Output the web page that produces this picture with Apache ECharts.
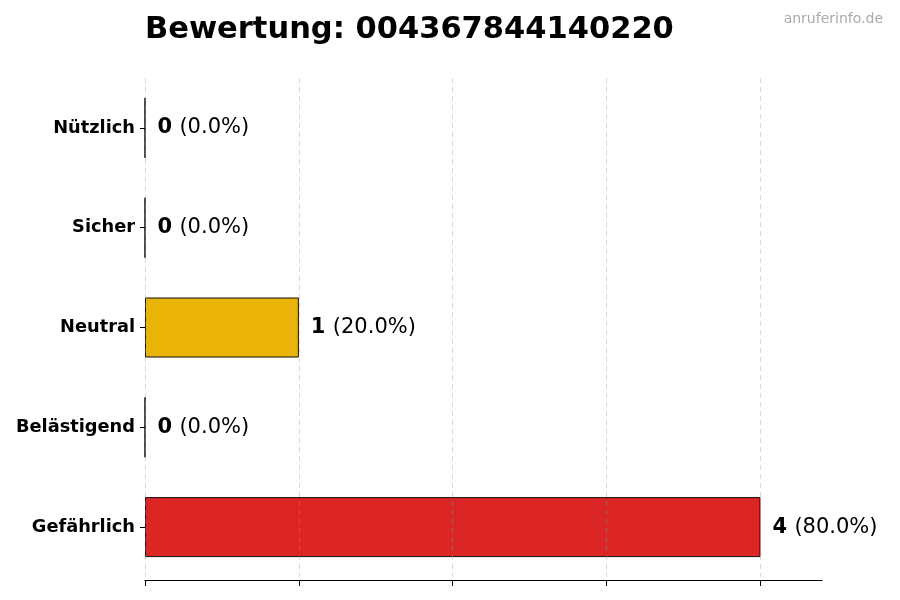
<!DOCTYPE html>
<html>
<head>
<meta charset="utf-8">
<script src="https://cdn.jsdelivr.net/npm/echarts@6/dist/echarts.min.js"></script>
<style>html,body{margin:0;padding:0;background:#fff}#c{width:900px;height:600px}</style>
</head>
<body>
<div id="c"></div>
<script>
const categories = ['Nützlich', 'Sicher', 'Neutral', 'Belästigend', 'Gefährlich'];
const counts = [0, 0, 1, 0, 4];
const barColors = ['#16A34A', '#2563EB', '#EAB308', '#F97316', '#DC2626'];
const xTicks = [0, 1, 2, 3, 4];
const titleText = 'Bewertung: 004367844140220';
const watermark = 'anruferinfo.de';

const total = counts.reduce((a, b) => a + b, 0);
const chart = echarts.init(document.getElementById('c'));
const FONT = 'DejaVu Sans';
chart.setOption({
  animation: false,
  textStyle: { fontFamily: FONT },
  title: [
    { text: titleText, left: 140, top: 10, textStyle: { fontFamily: FONT, fontSize: 30.5, fontWeight: 'bold', color: '#000' } },
    { text: watermark, right: 12, top: 7, textStyle: { fontFamily: FONT, fontSize: 14, fontWeight: 'normal', color: '#aaaaaa' } }
  ],
  grid: { left: 145, right: 78, top: 78, bottom: 23, containLabel: false },
  xAxis: {
    type: 'value', min: 0, max: 4.4, interval: 1, z: 3, offset: 3,
    axisLine: { show: true, lineStyle: { color: '#000', width: 1.2 } },
    axisTick: { show: true, customValues: xTicks, length: 6, inside: false, lineStyle: { color: '#000', width: 1 } },
    axisLabel: { show: false },
    splitLine: { show: true, lineStyle: { color: 'rgba(150,150,150,0.45)', type: [5, 4], width: 0.8 } }
  },
  yAxis: {
    type: 'category', data: categories, inverse: true,
    axisLine: { show: false },
    axisTick: { show: true, alignWithLabel: true, length: 5, lineStyle: { color: '#000' } },
    axisLabel: { fontFamily: FONT, fontSize: 17.8, fontWeight: 'bold', color: '#000', margin: 10 }
  },
  series: [{
    type: 'bar', barWidth: 60,
    data: counts.map((v, i) => ({ value: v, itemStyle: { color: barColors[i] } })),
    itemStyle: { borderColor: '#111', borderWidth: 1 },
    label: {
      show: true, position: 'right', distance: 12,
      formatter: p => '{b|' + p.value + ' }{n|(' + (total ? (p.value / total * 100) : 0).toFixed(1) + '%)}',
      rich: {
        b: { fontFamily: FONT, fontSize: 21, fontWeight: 'bold', color: '#000' },
        n: { fontFamily: FONT, fontSize: 21, color: '#000' }
      }
    }
  }]
});
</script>
</body>
</html>
